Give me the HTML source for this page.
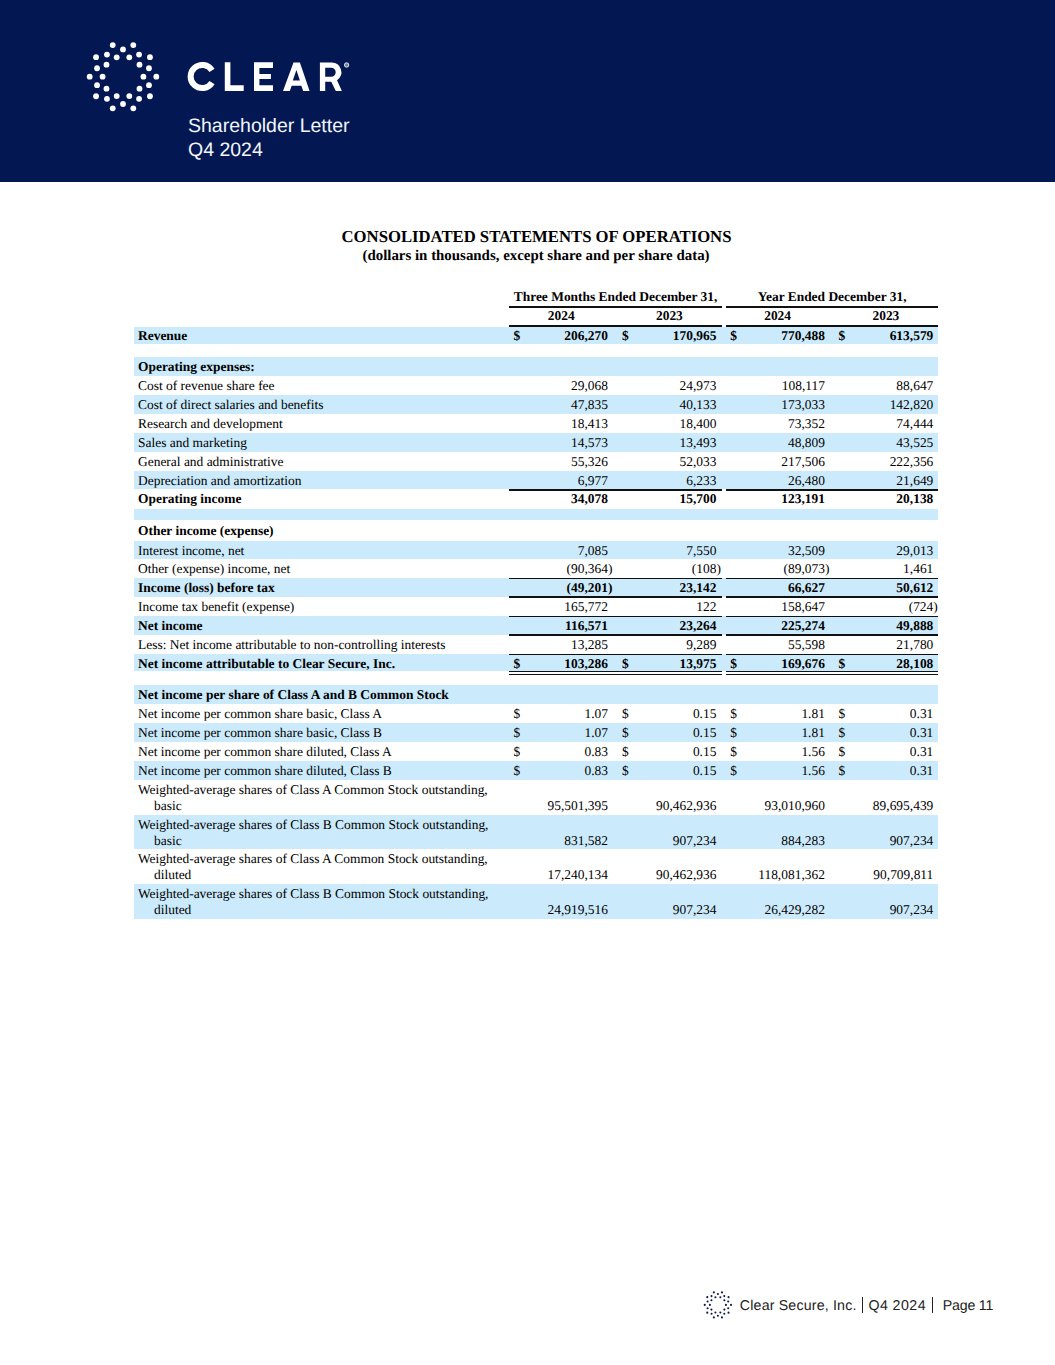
<!DOCTYPE html>
<html><head><meta charset="utf-8"><title>Clear Secure Q4 2024 Shareholder Letter - Page 11</title>
<style>
html,body{margin:0;padding:0;}
body{width:1055px;height:1365px;position:relative;overflow:hidden;background:#ffffff;color:#000;}
.r,.abs,.s,.h{position:absolute;}
.s{font-family:"Liberation Serif",serif;white-space:nowrap;line-height:20px;text-rendering:geometricPrecision;}
.h{font-family:"Liberation Sans",sans-serif;white-space:nowrap;line-height:20px;text-rendering:geometricPrecision;}
</style></head><body>
<div class="r" style="left:0.00px;top:0.00px;width:1055.00px;height:182.00px;background:#031852"></div>
<svg class="abs" width="1055" height="182" viewBox="0 0 1055 182" style="left:0;top:0"><g fill="#ffffff"><circle cx="156.30" cy="76.70" r="2.9"/><circle cx="143.40" cy="76.70" r="2.9"/><circle cx="148.96" cy="85.14" r="2.9"/><circle cx="149.94" cy="96.27" r="2.9"/><circle cx="139.50" cy="88.69" r="2.9"/><circle cx="139.05" cy="98.79" r="2.9"/><circle cx="133.29" cy="108.37" r="2.9"/><circle cx="129.30" cy="96.10" r="2.9"/><circle cx="123.00" cy="104.00" r="2.9"/><circle cx="112.71" cy="108.37" r="2.9"/><circle cx="116.70" cy="96.10" r="2.9"/><circle cx="106.95" cy="98.79" r="2.9"/><circle cx="96.06" cy="96.27" r="2.9"/><circle cx="106.50" cy="88.69" r="2.9"/><circle cx="97.04" cy="85.14" r="2.9"/><circle cx="89.70" cy="76.70" r="2.9"/><circle cx="102.60" cy="76.70" r="2.9"/><circle cx="97.04" cy="68.26" r="2.9"/><circle cx="96.06" cy="57.13" r="2.9"/><circle cx="106.50" cy="64.71" r="2.9"/><circle cx="106.95" cy="54.61" r="2.9"/><circle cx="112.71" cy="45.03" r="2.9"/><circle cx="116.70" cy="57.30" r="2.9"/><circle cx="123.00" cy="49.40" r="2.9"/><circle cx="133.29" cy="45.03" r="2.9"/><circle cx="129.30" cy="57.30" r="2.9"/><circle cx="139.05" cy="54.61" r="2.9"/><circle cx="149.94" cy="57.13" r="2.9"/><circle cx="139.50" cy="64.71" r="2.9"/><circle cx="148.96" cy="68.26" r="2.9"/></g><path d="M212.04,70.35 A11.6,11.6 0 1 0 212.04,82.65" fill="none" stroke="#fff" stroke-width="6.0"/><g fill="#fff"><path d="M224.8,62.3 H230.4 V85.3 H243.7 V91.1 H224.8 Z"/><path d="M254,62.3 H273 V68 H259.4 V73.9 H270.9 V79.1 H259.4 V85.3 H273 V91.1 H254 Z"/><path fill-rule="evenodd" d="M283,91.1 L293.5,62.5 L299.9,62.5 L309.6,91.1 L303.2,91.1 L301.3,85.7 L291.7,85.7 L289.8,91.1 Z M296.4,70 L299.9,80.6 L292.8,80.6 Z"/><path fill-rule="evenodd" d="M319.9,62.6 L331.5,62.6 A9.6,9.6 0 0 1 337.0,80.2 L341.9,91.1 L335.8,91.1 L331.3,81.8 L325.2,81.8 L325.2,91.1 L319.9,91.1 Z M325.2,67.7 L331.2,67.7 A4.5,4.5 0 0 1 331.2,76.7 L325.2,76.7 Z"/></g><circle cx="346.6" cy="65.0" r="2.2" fill="rgba(255,255,255,0.45)" stroke="#fff" stroke-width="0.8"/></svg>
<div class="h" style="top:115.54px;font-size:19.5px;color:#f2f5fb;left:188.00px;">Shareholder Letter</div>
<div class="h" style="top:140.24px;font-size:19.5px;color:#f2f5fb;left:188.00px;">Q4 2024</div>
<div class="s" style="top:226.87px;font-size:16.7px;font-weight:bold;left:236.50px;width:600px;text-align:center;">CONSOLIDATED STATEMENTS OF OPERATIONS</div>
<div class="s" style="top:245.87px;font-size:14.9px;font-weight:bold;left:236.00px;width:600px;text-align:center;">(dollars in thousands, except share and per share data)</div>
<div class="s" style="top:286.96px;font-size:13.45px;font-weight:bold;left:315.60px;width:600px;text-align:center;">Three Months Ended December 31,</div>
<div class="s" style="top:286.96px;font-size:13.45px;font-weight:bold;left:532.15px;width:600px;text-align:center;">Year Ended December 31,</div>
<div class="s" style="top:306.06px;font-size:13.45px;font-weight:bold;left:261.20px;width:600px;text-align:center;">2024</div>
<div class="s" style="top:306.06px;font-size:13.45px;font-weight:bold;left:369.40px;width:600px;text-align:center;">2023</div>
<div class="s" style="top:306.06px;font-size:13.45px;font-weight:bold;left:477.60px;width:600px;text-align:center;">2024</div>
<div class="s" style="top:306.06px;font-size:13.45px;font-weight:bold;left:585.90px;width:600px;text-align:center;">2023</div>
<div class="r" style="left:134.20px;top:326.90px;width:804.20px;height:17.10px;background:#cbeafb"></div>
<div class="r" style="left:134.20px;top:357.40px;width:804.20px;height:18.80px;background:#cbeafb"></div>
<div class="r" style="left:134.20px;top:395.20px;width:804.20px;height:18.90px;background:#cbeafb"></div>
<div class="r" style="left:134.20px;top:433.00px;width:804.20px;height:18.90px;background:#cbeafb"></div>
<div class="r" style="left:134.20px;top:470.90px;width:804.20px;height:18.50px;background:#cbeafb"></div>
<div class="r" style="left:134.20px;top:508.90px;width:804.20px;height:11.40px;background:#cbeafb"></div>
<div class="r" style="left:134.20px;top:541.10px;width:804.20px;height:18.40px;background:#cbeafb"></div>
<div class="r" style="left:134.20px;top:578.30px;width:804.20px;height:18.30px;background:#cbeafb"></div>
<div class="r" style="left:134.20px;top:616.20px;width:804.20px;height:18.80px;background:#cbeafb"></div>
<div class="r" style="left:134.20px;top:654.40px;width:804.20px;height:17.00px;background:#cbeafb"></div>
<div class="r" style="left:134.20px;top:685.40px;width:804.20px;height:19.00px;background:#cbeafb"></div>
<div class="r" style="left:134.20px;top:723.20px;width:804.20px;height:19.00px;background:#cbeafb"></div>
<div class="r" style="left:134.20px;top:761.30px;width:804.20px;height:18.80px;background:#cbeafb"></div>
<div class="r" style="left:134.20px;top:815.00px;width:804.20px;height:34.40px;background:#cbeafb"></div>
<div class="r" style="left:134.20px;top:884.30px;width:804.20px;height:34.30px;background:#cbeafb"></div>
<div class="s" style="top:326.36px;font-size:13.45px;font-weight:bold;left:138.00px;">Revenue</div>
<div class="s" style="top:326.36px;font-size:13.45px;font-weight:bold;right:447.00px;">206,270</div>
<div class="s" style="top:326.36px;font-size:13.45px;font-weight:bold;left:513.60px;">$</div>
<div class="s" style="top:326.36px;font-size:13.45px;font-weight:bold;right:338.60px;">170,965</div>
<div class="s" style="top:326.36px;font-size:13.45px;font-weight:bold;left:621.90px;">$</div>
<div class="s" style="top:326.36px;font-size:13.45px;font-weight:bold;right:230.10px;">770,488</div>
<div class="s" style="top:326.36px;font-size:13.45px;font-weight:bold;left:730.20px;">$</div>
<div class="s" style="top:326.36px;font-size:13.45px;font-weight:bold;right:121.70px;">613,579</div>
<div class="s" style="top:326.36px;font-size:13.45px;font-weight:bold;left:838.60px;">$</div>
<div class="s" style="top:356.86px;font-size:13.45px;font-weight:bold;left:138.00px;">Operating expenses:</div>
<div class="s" style="top:375.66px;font-size:13.45px;left:138.00px;">Cost of revenue share fee</div>
<div class="s" style="top:375.66px;font-size:13.45px;right:447.00px;">29,068</div>
<div class="s" style="top:375.66px;font-size:13.45px;right:338.60px;">24,973</div>
<div class="s" style="top:375.66px;font-size:13.45px;right:230.10px;">108,117</div>
<div class="s" style="top:375.66px;font-size:13.45px;right:121.70px;">88,647</div>
<div class="s" style="top:394.66px;font-size:13.45px;left:138.00px;">Cost of direct salaries and benefits</div>
<div class="s" style="top:394.66px;font-size:13.45px;right:447.00px;">47,835</div>
<div class="s" style="top:394.66px;font-size:13.45px;right:338.60px;">40,133</div>
<div class="s" style="top:394.66px;font-size:13.45px;right:230.10px;">173,033</div>
<div class="s" style="top:394.66px;font-size:13.45px;right:121.70px;">142,820</div>
<div class="s" style="top:413.56px;font-size:13.45px;left:138.00px;">Research and development</div>
<div class="s" style="top:413.56px;font-size:13.45px;right:447.00px;">18,413</div>
<div class="s" style="top:413.56px;font-size:13.45px;right:338.60px;">18,400</div>
<div class="s" style="top:413.56px;font-size:13.45px;right:230.10px;">73,352</div>
<div class="s" style="top:413.56px;font-size:13.45px;right:121.70px;">74,444</div>
<div class="s" style="top:433.26px;font-size:13.45px;left:138.00px;">Sales and marketing</div>
<div class="s" style="top:433.26px;font-size:13.45px;right:447.00px;">14,573</div>
<div class="s" style="top:433.26px;font-size:13.45px;right:338.60px;">13,493</div>
<div class="s" style="top:433.26px;font-size:13.45px;right:230.10px;">48,809</div>
<div class="s" style="top:433.26px;font-size:13.45px;right:121.70px;">43,525</div>
<div class="s" style="top:452.16px;font-size:13.45px;left:138.00px;">General and administrative</div>
<div class="s" style="top:452.16px;font-size:13.45px;right:447.00px;">55,326</div>
<div class="s" style="top:452.16px;font-size:13.45px;right:338.60px;">52,033</div>
<div class="s" style="top:452.16px;font-size:13.45px;right:230.10px;">217,506</div>
<div class="s" style="top:452.16px;font-size:13.45px;right:121.70px;">222,356</div>
<div class="s" style="top:471.16px;font-size:13.45px;left:138.00px;">Depreciation and amortization</div>
<div class="s" style="top:471.16px;font-size:13.45px;right:447.00px;">6,977</div>
<div class="s" style="top:471.16px;font-size:13.45px;right:338.60px;">6,233</div>
<div class="s" style="top:471.16px;font-size:13.45px;right:230.10px;">26,480</div>
<div class="s" style="top:471.16px;font-size:13.45px;right:121.70px;">21,649</div>
<div class="s" style="top:489.46px;font-size:13.45px;font-weight:bold;left:138.00px;">Operating income</div>
<div class="s" style="top:489.46px;font-size:13.45px;font-weight:bold;right:447.00px;">34,078</div>
<div class="s" style="top:489.46px;font-size:13.45px;font-weight:bold;right:338.60px;">15,700</div>
<div class="s" style="top:489.46px;font-size:13.45px;font-weight:bold;right:230.10px;">123,191</div>
<div class="s" style="top:489.46px;font-size:13.45px;font-weight:bold;right:121.70px;">20,138</div>
<div class="s" style="top:520.76px;font-size:13.45px;font-weight:bold;left:138.00px;">Other income (expense)</div>
<div class="s" style="top:540.56px;font-size:13.45px;left:138.00px;">Interest income, net</div>
<div class="s" style="top:540.56px;font-size:13.45px;right:447.00px;">7,085</div>
<div class="s" style="top:540.56px;font-size:13.45px;right:338.60px;">7,550</div>
<div class="s" style="top:540.56px;font-size:13.45px;right:230.10px;">32,509</div>
<div class="s" style="top:540.56px;font-size:13.45px;right:121.70px;">29,013</div>
<div class="s" style="top:558.96px;font-size:13.45px;left:138.00px;">Other (expense) income, net</div>
<div class="s" style="top:558.96px;font-size:13.45px;right:447.00px;">(90,364</div>
<div class="s" style="top:558.96px;font-size:13.45px;left:608.00px;">)</div>
<div class="s" style="top:558.96px;font-size:13.45px;right:338.60px;">(108</div>
<div class="s" style="top:558.96px;font-size:13.45px;left:716.40px;">)</div>
<div class="s" style="top:558.96px;font-size:13.45px;right:230.10px;">(89,073</div>
<div class="s" style="top:558.96px;font-size:13.45px;left:824.90px;">)</div>
<div class="s" style="top:558.96px;font-size:13.45px;right:121.70px;">1,461</div>
<div class="s" style="top:577.76px;font-size:13.45px;font-weight:bold;left:138.00px;">Income (loss) before tax</div>
<div class="s" style="top:577.76px;font-size:13.45px;font-weight:bold;right:447.00px;">(49,201</div>
<div class="s" style="top:577.76px;font-size:13.45px;font-weight:bold;left:608.00px;">)</div>
<div class="s" style="top:577.76px;font-size:13.45px;font-weight:bold;right:338.60px;">23,142</div>
<div class="s" style="top:577.76px;font-size:13.45px;font-weight:bold;right:230.10px;">66,627</div>
<div class="s" style="top:577.76px;font-size:13.45px;font-weight:bold;right:121.70px;">50,612</div>
<div class="s" style="top:596.96px;font-size:13.45px;left:138.00px;">Income tax benefit (expense)</div>
<div class="s" style="top:596.96px;font-size:13.45px;right:447.00px;">165,772</div>
<div class="s" style="top:596.96px;font-size:13.45px;right:338.60px;">122</div>
<div class="s" style="top:596.96px;font-size:13.45px;right:230.10px;">158,647</div>
<div class="s" style="top:596.96px;font-size:13.45px;right:121.70px;">(724</div>
<div class="s" style="top:596.96px;font-size:13.45px;left:933.30px;">)</div>
<div class="s" style="top:615.66px;font-size:13.45px;font-weight:bold;left:138.00px;">Net income</div>
<div class="s" style="top:615.66px;font-size:13.45px;font-weight:bold;right:447.00px;">116,571</div>
<div class="s" style="top:615.66px;font-size:13.45px;font-weight:bold;right:338.60px;">23,264</div>
<div class="s" style="top:615.66px;font-size:13.45px;font-weight:bold;right:230.10px;">225,274</div>
<div class="s" style="top:615.66px;font-size:13.45px;font-weight:bold;right:121.70px;">49,888</div>
<div class="s" style="top:635.46px;font-size:13.45px;left:138.00px;">Less: Net income attributable to non-controlling interests</div>
<div class="s" style="top:635.46px;font-size:13.45px;right:447.00px;">13,285</div>
<div class="s" style="top:635.46px;font-size:13.45px;right:338.60px;">9,289</div>
<div class="s" style="top:635.46px;font-size:13.45px;right:230.10px;">55,598</div>
<div class="s" style="top:635.46px;font-size:13.45px;right:121.70px;">21,780</div>
<div class="s" style="top:653.86px;font-size:13.45px;font-weight:bold;left:138.00px;">Net income attributable to Clear Secure, Inc.</div>
<div class="s" style="top:653.86px;font-size:13.45px;font-weight:bold;right:447.00px;">103,286</div>
<div class="s" style="top:653.86px;font-size:13.45px;font-weight:bold;left:513.60px;">$</div>
<div class="s" style="top:653.86px;font-size:13.45px;font-weight:bold;right:338.60px;">13,975</div>
<div class="s" style="top:653.86px;font-size:13.45px;font-weight:bold;left:621.90px;">$</div>
<div class="s" style="top:653.86px;font-size:13.45px;font-weight:bold;right:230.10px;">169,676</div>
<div class="s" style="top:653.86px;font-size:13.45px;font-weight:bold;left:730.20px;">$</div>
<div class="s" style="top:653.86px;font-size:13.45px;font-weight:bold;right:121.70px;">28,108</div>
<div class="s" style="top:653.86px;font-size:13.45px;font-weight:bold;left:838.60px;">$</div>
<div class="s" style="top:684.86px;font-size:13.45px;font-weight:bold;left:138.00px;">Net income per share of Class A and B Common Stock</div>
<div class="s" style="top:704.26px;font-size:13.45px;left:138.00px;">Net income per common share basic, Class A</div>
<div class="s" style="top:704.26px;font-size:13.45px;right:447.00px;">1.07</div>
<div class="s" style="top:704.26px;font-size:13.45px;left:513.60px;">$</div>
<div class="s" style="top:704.26px;font-size:13.45px;right:338.60px;">0.15</div>
<div class="s" style="top:704.26px;font-size:13.45px;left:621.90px;">$</div>
<div class="s" style="top:704.26px;font-size:13.45px;right:230.10px;">1.81</div>
<div class="s" style="top:704.26px;font-size:13.45px;left:730.20px;">$</div>
<div class="s" style="top:704.26px;font-size:13.45px;right:121.70px;">0.31</div>
<div class="s" style="top:704.26px;font-size:13.45px;left:838.60px;">$</div>
<div class="s" style="top:723.06px;font-size:13.45px;left:138.00px;">Net income per common share basic, Class B</div>
<div class="s" style="top:723.06px;font-size:13.45px;right:447.00px;">1.07</div>
<div class="s" style="top:723.06px;font-size:13.45px;left:513.60px;">$</div>
<div class="s" style="top:723.06px;font-size:13.45px;right:338.60px;">0.15</div>
<div class="s" style="top:723.06px;font-size:13.45px;left:621.90px;">$</div>
<div class="s" style="top:723.06px;font-size:13.45px;right:230.10px;">1.81</div>
<div class="s" style="top:723.06px;font-size:13.45px;left:730.20px;">$</div>
<div class="s" style="top:723.06px;font-size:13.45px;right:121.70px;">0.31</div>
<div class="s" style="top:723.06px;font-size:13.45px;left:838.60px;">$</div>
<div class="s" style="top:742.06px;font-size:13.45px;left:138.00px;">Net income per common share diluted, Class A</div>
<div class="s" style="top:742.06px;font-size:13.45px;right:447.00px;">0.83</div>
<div class="s" style="top:742.06px;font-size:13.45px;left:513.60px;">$</div>
<div class="s" style="top:742.06px;font-size:13.45px;right:338.60px;">0.15</div>
<div class="s" style="top:742.06px;font-size:13.45px;left:621.90px;">$</div>
<div class="s" style="top:742.06px;font-size:13.45px;right:230.10px;">1.56</div>
<div class="s" style="top:742.06px;font-size:13.45px;left:730.20px;">$</div>
<div class="s" style="top:742.06px;font-size:13.45px;right:121.70px;">0.31</div>
<div class="s" style="top:742.06px;font-size:13.45px;left:838.60px;">$</div>
<div class="s" style="top:761.16px;font-size:13.45px;left:138.00px;">Net income per common share diluted, Class B</div>
<div class="s" style="top:761.16px;font-size:13.45px;right:447.00px;">0.83</div>
<div class="s" style="top:761.16px;font-size:13.45px;left:513.60px;">$</div>
<div class="s" style="top:761.16px;font-size:13.45px;right:338.60px;">0.15</div>
<div class="s" style="top:761.16px;font-size:13.45px;left:621.90px;">$</div>
<div class="s" style="top:761.16px;font-size:13.45px;right:230.10px;">1.56</div>
<div class="s" style="top:761.16px;font-size:13.45px;left:730.20px;">$</div>
<div class="s" style="top:761.16px;font-size:13.45px;right:121.70px;">0.31</div>
<div class="s" style="top:761.16px;font-size:13.45px;left:838.60px;">$</div>
<div class="s" style="top:779.96px;font-size:13.45px;left:138.00px;">Weighted-average shares of Class A Common Stock outstanding,</div>
<div class="s" style="top:796.16px;font-size:13.45px;left:154.00px;">basic</div>
<div class="s" style="top:796.16px;font-size:13.45px;right:447.00px;">95,501,395</div>
<div class="s" style="top:796.16px;font-size:13.45px;right:338.60px;">90,462,936</div>
<div class="s" style="top:796.16px;font-size:13.45px;right:230.10px;">93,010,960</div>
<div class="s" style="top:796.16px;font-size:13.45px;right:121.70px;">89,695,439</div>
<div class="s" style="top:814.86px;font-size:13.45px;left:138.00px;">Weighted-average shares of Class B Common Stock outstanding,</div>
<div class="s" style="top:831.06px;font-size:13.45px;left:154.00px;">basic</div>
<div class="s" style="top:831.06px;font-size:13.45px;right:447.00px;">831,582</div>
<div class="s" style="top:831.06px;font-size:13.45px;right:338.60px;">907,234</div>
<div class="s" style="top:831.06px;font-size:13.45px;right:230.10px;">884,283</div>
<div class="s" style="top:831.06px;font-size:13.45px;right:121.70px;">907,234</div>
<div class="s" style="top:849.26px;font-size:13.45px;left:138.00px;">Weighted-average shares of Class A Common Stock outstanding,</div>
<div class="s" style="top:865.46px;font-size:13.45px;left:154.00px;">diluted</div>
<div class="s" style="top:865.46px;font-size:13.45px;right:447.00px;">17,240,134</div>
<div class="s" style="top:865.46px;font-size:13.45px;right:338.60px;">90,462,936</div>
<div class="s" style="top:865.46px;font-size:13.45px;right:230.10px;">118,081,362</div>
<div class="s" style="top:865.46px;font-size:13.45px;right:121.70px;">90,709,811</div>
<div class="s" style="top:884.16px;font-size:13.45px;left:138.00px;">Weighted-average shares of Class B Common Stock outstanding,</div>
<div class="s" style="top:900.36px;font-size:13.45px;left:154.00px;">diluted</div>
<div class="s" style="top:900.36px;font-size:13.45px;right:447.00px;">24,919,516</div>
<div class="s" style="top:900.36px;font-size:13.45px;right:338.60px;">907,234</div>
<div class="s" style="top:900.36px;font-size:13.45px;right:230.10px;">26,429,282</div>
<div class="s" style="top:900.36px;font-size:13.45px;right:121.70px;">907,234</div>
<div class="r" style="left:509.30px;top:306.10px;width:212.50px;height:1.50px;background:#111"></div>
<div class="r" style="left:725.90px;top:306.10px;width:212.50px;height:1.50px;background:#111"></div>
<div class="r" style="left:509.30px;top:325.30px;width:212.50px;height:1.50px;background:#111"></div>
<div class="r" style="left:725.90px;top:325.30px;width:212.50px;height:1.50px;background:#111"></div>
<div class="r" style="left:509.30px;top:489.00px;width:212.50px;height:1.50px;background:#111"></div>
<div class="r" style="left:725.90px;top:489.00px;width:212.50px;height:1.50px;background:#111"></div>
<div class="r" style="left:509.30px;top:577.90px;width:212.50px;height:1.50px;background:#111"></div>
<div class="r" style="left:725.90px;top:577.90px;width:212.50px;height:1.50px;background:#111"></div>
<div class="r" style="left:509.30px;top:596.00px;width:212.50px;height:1.50px;background:#111"></div>
<div class="r" style="left:725.90px;top:596.00px;width:212.50px;height:1.50px;background:#111"></div>
<div class="r" style="left:509.30px;top:615.80px;width:212.50px;height:1.50px;background:#111"></div>
<div class="r" style="left:725.90px;top:615.80px;width:212.50px;height:1.50px;background:#111"></div>
<div class="r" style="left:509.30px;top:634.40px;width:212.50px;height:1.50px;background:#111"></div>
<div class="r" style="left:725.90px;top:634.40px;width:212.50px;height:1.50px;background:#111"></div>
<div class="r" style="left:509.30px;top:653.70px;width:212.50px;height:1.50px;background:#111"></div>
<div class="r" style="left:725.90px;top:653.70px;width:212.50px;height:1.50px;background:#111"></div>
<div class="r" style="left:509.30px;top:671.00px;width:212.50px;height:1.20px;background:#111"></div>
<div class="r" style="left:725.90px;top:671.00px;width:212.50px;height:1.20px;background:#111"></div>
<div class="r" style="left:509.30px;top:674.20px;width:212.50px;height:1.30px;background:#111"></div>
<div class="r" style="left:725.90px;top:674.20px;width:212.50px;height:1.30px;background:#111"></div>
<svg class="abs" width="60" height="60" viewBox="0 0 60 60" style="left:688px;top:1275px"><g fill="#0d1b4c"><circle cx="43.05" cy="29.90" r="1.05"/><circle cx="37.90" cy="29.90" r="1.05"/><circle cx="40.22" cy="33.25" r="1.05"/><circle cx="40.54" cy="37.63" r="1.05"/><circle cx="36.37" cy="34.60" r="1.05"/><circle cx="36.28" cy="38.68" r="1.05"/><circle cx="33.96" cy="42.41" r="1.05"/><circle cx="32.37" cy="37.51" r="1.05"/><circle cx="29.90" cy="40.75" r="1.05"/><circle cx="25.84" cy="42.41" r="1.05"/><circle cx="27.43" cy="37.51" r="1.05"/><circle cx="23.52" cy="38.68" r="1.05"/><circle cx="19.26" cy="37.63" r="1.05"/><circle cx="23.43" cy="34.60" r="1.05"/><circle cx="19.58" cy="33.25" r="1.05"/><circle cx="16.75" cy="29.90" r="1.05"/><circle cx="21.90" cy="29.90" r="1.05"/><circle cx="19.58" cy="26.55" r="1.05"/><circle cx="19.26" cy="22.17" r="1.05"/><circle cx="23.43" cy="25.20" r="1.05"/><circle cx="23.52" cy="21.12" r="1.05"/><circle cx="25.84" cy="17.39" r="1.05"/><circle cx="27.43" cy="22.29" r="1.05"/><circle cx="29.90" cy="19.05" r="1.05"/><circle cx="33.96" cy="17.39" r="1.05"/><circle cx="32.37" cy="22.29" r="1.05"/><circle cx="36.28" cy="21.12" r="1.05"/><circle cx="40.54" cy="22.17" r="1.05"/><circle cx="36.37" cy="25.20" r="1.05"/><circle cx="40.22" cy="26.55" r="1.05"/></g></svg>
<div class="h" style="top:1295.58px;font-size:14.2px;letter-spacing:0.18px;color:#222222;left:739.80px;">Clear Secure, Inc.</div>
<div class="r" style="left:861.80px;top:1296.60px;width:1.20px;height:16.00px;background:#222222"></div>
<div class="h" style="top:1295.58px;font-size:14.2px;letter-spacing:0.45px;color:#222222;left:868.40px;">Q4 2024</div>
<div class="r" style="left:931.80px;top:1296.60px;width:1.20px;height:16.00px;background:#222222"></div>
<div class="h" style="top:1295.58px;font-size:14.2px;letter-spacing:-0.2px;color:#222222;left:942.80px;">Page 11</div>
</body></html>
